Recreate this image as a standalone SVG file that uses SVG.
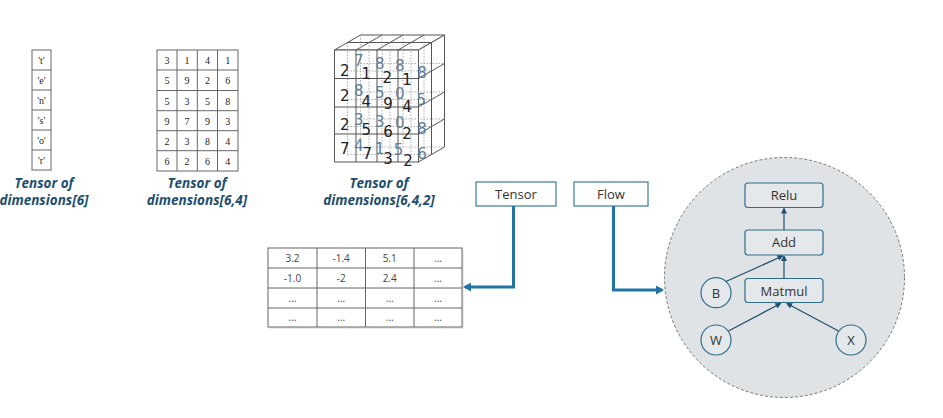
<svg xmlns="http://www.w3.org/2000/svg" width="943" height="418" viewBox="0 0 943 418">
<style>
.lbl{font-family:"Open Sans","Liberation Sans",sans-serif;font-weight:bold;font-style:italic;font-size:13.5px;fill:#1d4e6e;text-anchor:middle}
.ser{font-family:"Liberation Serif",serif;font-size:10px;fill:#222;text-anchor:middle}
.grid{fill:#fff;stroke:#666;stroke-width:1}
.cube{fill:#fff;stroke:#555;stroke-width:1;stroke-linejoin:round}
.dot{fill:none;stroke:#999;stroke-width:0.8;stroke-dasharray:1.5 1.5}
.bk{font-family:"DejaVu Sans","Liberation Sans",sans-serif;font-size:15px;fill:#222;text-anchor:middle}
.bl{font-family:"DejaVu Sans","Liberation Sans",sans-serif;font-size:15px;fill:#5f8099;text-anchor:middle}
.tb{font-family:"Open Sans","Liberation Sans",sans-serif;font-size:10px;fill:#444;text-anchor:middle}
.box{fill:#fff;stroke:#3d7f8f;stroke-width:1.2}
.btxt{font-family:"Open Sans","Liberation Sans",sans-serif;font-size:13px;fill:#333;text-anchor:middle}
.nd{fill:#e4e8eb;stroke:#2e6e8a;stroke-width:1.2}
.ntxt{font-family:"Open Sans","Liberation Sans",sans-serif;font-size:13px;fill:#333;text-anchor:middle}
.big{fill:none;stroke:#2274a5;stroke-width:3}
.sm{fill:none;stroke:#1f4e6e;stroke-width:1.2}
</style>
<defs>
<marker id="ab" markerWidth="9" markerHeight="9" refX="6" refY="4.5" orient="auto" markerUnits="userSpaceOnUse"><path d="M0,0 L8,4.5 L0,9 z" fill="#2274a5"/></marker>
<marker id="as" markerWidth="6" markerHeight="6" refX="5" refY="3" orient="auto" markerUnits="userSpaceOnUse"><path d="M0,0 L6,3 L0,6 z" fill="#1f4e6e"/></marker>
</defs>
<rect width="943" height="418" fill="#fff"/>

<g id="tensor1d">
<rect class="grid" x="32" y="50" width="19" height="120"/>
<path d="M32,70H51M32,90H51M32,110H51M32,130H51M32,150H51" stroke="#666" stroke-width="1"/>
<text class="ser" x="41.5" y="63.5">'t'</text>
<text class="ser" x="41.5" y="83.5">'e'</text>
<text class="ser" x="41.5" y="103.5">'n'</text>
<text class="ser" x="41.5" y="123.5">'s'</text>
<text class="ser" x="41.5" y="143.5">'o'</text>
<text class="ser" x="41.5" y="163.5">'r'</text>
<text class="lbl"><tspan x="44" y="188">Tensor of</tspan><tspan x="44" y="205">dimensions[6]</tspan></text>
</g>

<g id="tensor2d">
<rect class="grid" x="157" y="50" width="81" height="121"/>
<path d="M177,50V171M197.3,50V171M217.5,50V171M157,70H238M157,90.5H238M157,110.7H238M157,130.7H238M157,150.7H238" stroke="#666" stroke-width="1"/>
<g class="ser">
<text x="167" y="64">3</text><text x="187" y="64">1</text><text x="207.4" y="64">4</text><text x="227.7" y="64">1</text>
<text x="167" y="84">5</text><text x="187" y="84">9</text><text x="207.4" y="84">2</text><text x="227.7" y="84">6</text>
<text x="167" y="104.5">5</text><text x="187" y="104.5">3</text><text x="207.4" y="104.5">5</text><text x="227.7" y="104.5">8</text>
<text x="167" y="124.5">9</text><text x="187" y="124.5">7</text><text x="207.4" y="124.5">9</text><text x="227.7" y="124.5">3</text>
<text x="167" y="144.5">2</text><text x="187" y="144.5">3</text><text x="207.4" y="144.5">8</text><text x="227.7" y="144.5">4</text>
<text x="167" y="164.5">6</text><text x="187" y="164.5">2</text><text x="207.4" y="164.5">6</text><text x="227.7" y="164.5">4</text>
</g>
<text class="lbl"><tspan x="197" y="188">Tensor of</tspan><tspan x="197" y="205">dimensions[6,4]</tspan></text>
</g>

<g id="tensor3d">
<polygon class="cube" points="334.5,50 418.5,50 444.5,35 360.5,35"/>
<polygon class="cube" points="418.5,50 444.5,35 444.5,147 418.5,162"/>
<rect class="cube" x="334.5" y="50" width="84" height="112"/>
<path d="M356,50V162M377,50V162M398,50V162M334.5,78.5H418.5M334.5,107H418.5M334.5,134H418.5" stroke="#555" stroke-width="1"/>
<path d="M356,50L382,35M377,50L403,35M398,50L424,35M347.5,42.5H431.5M431.5,42.5V154.5M418.5,78.5L444.5,63.5M418.5,107L444.5,92M418.5,134L444.5,119" stroke="#555" stroke-width="1" fill="none"/>
<path class="dot" d="M347.5,42.5V154.5M369,42.5V154.5M390,42.5V154.5M411,42.5V154.5M360.5,35V147M382,35V147M403,35V147M424,35V147M347.5,71H431.5M347.5,99.5H431.5M347.5,126.5H431.5M347.5,154.5H431.5M360.5,63.5H444.5M360.5,92H444.5M360.5,119H444.5M360.5,147H444.5"/>
<text class="bk" x="344.7" y="75.8">2</text><text class="bl" x="358.7" y="65.8">7</text><text class="bk" x="366.3" y="79.2">1</text><text class="bl" x="379.7" y="69.2">8</text><text class="bk" x="387.3" y="82.5">2</text><text class="bl" x="399.7" y="70.8">8</text><text class="bk" x="407" y="85.2">1</text><text class="bl" x="422" y="78.2">8</text>
<text class="bk" x="344.7" y="100.8">2</text><text class="bl" x="358.7" y="95.8">8</text><text class="bk" x="366.3" y="106.8">4</text><text class="bl" x="379.7" y="97.5">5</text><text class="bk" x="388" y="109.2">9</text><text class="bl" x="399.7" y="99.2">0</text><text class="bk" x="407" y="111.5">4</text><text class="bl" x="421.3" y="104.8">5</text>
<text class="bk" x="344.7" y="130.2">2</text><text class="bl" x="358.7" y="124.8">3</text><text class="bk" x="366.3" y="134.8">5</text><text class="bl" x="379.7" y="126.8">3</text><text class="bk" x="388" y="136.8">6</text><text class="bl" x="399.7" y="127.5">0</text><text class="bk" x="407" y="138.5">2</text><text class="bl" x="422" y="134.2">8</text>
<text class="bk" x="344.7" y="154.2">7</text><text class="bl" x="358.7" y="150.8">4</text><text class="bk" x="367.3" y="159.2">7</text><text class="bl" x="379.7" y="154.2">1</text><text class="bk" x="388" y="163.5">3</text><text class="bl" x="398.5" y="155">5</text><text class="bk" x="408" y="166">2</text><text class="bl" x="422" y="159.2">6</text>
<text class="lbl"><tspan x="379" y="188">Tensor of</tspan><tspan x="379" y="205">dimensions[6,4,2]</tspan></text>
</g>

<g id="table">
<rect x="270" y="250" width="194" height="79" fill="#ddd" opacity="0.6"/>
<rect class="grid" x="268" y="248" width="194" height="79"/>
<path d="M317,248V327M365.5,248V327M414,248V327M268,268H462M268,288H462M268,308H462" stroke="#666" stroke-width="1"/>
<g class="tb">
<text x="292.5" y="261.5">3.2</text><text x="341.2" y="261.5">-1.4</text><text x="389.7" y="261.5">5.1</text><text x="438" y="261.5">...</text>
<text x="292.5" y="281.5">-1.0</text><text x="341.2" y="281.5">-2</text><text x="389.7" y="281.5">2.4</text><text x="438" y="281.5">...</text>
<text x="292.5" y="301.5">...</text><text x="341.2" y="301.5">...</text><text x="389.7" y="301.5">...</text><text x="438" y="301.5">...</text>
<text x="292.5" y="321">...</text><text x="341.2" y="321">...</text><text x="389.7" y="321">...</text><text x="438" y="321">...</text>
</g>
</g>

<g id="tensor-box">
<rect class="box" x="476" y="182" width="80" height="24"/>
<text class="btxt" x="516" y="198.5">Tensor</text>
</g>
<g id="flow-box">
<rect class="box" x="574" y="182" width="74" height="24"/>
<text class="btxt" x="611" y="198.5">Flow</text>
</g>

<g id="graph-circle">
<circle cx="784.5" cy="277.5" r="120" fill="#dfe3e6" stroke="#777" stroke-width="1" stroke-dasharray="3 2"/>
</g>
<g id="relu"><rect class="nd" x="745" y="183" width="78" height="24.5" rx="3"/><text class="ntxt" x="784" y="200">Relu</text></g>
<g id="add"><rect class="nd" x="745" y="230" width="78" height="25" rx="3"/><text class="ntxt" x="784" y="247">Add</text></g>
<g id="matmul"><rect class="nd" x="745" y="278.5" width="78" height="24" rx="3"/><text class="ntxt" x="784" y="295.5">Matmul</text></g>
<g id="b"><circle class="nd" cx="716" cy="292.7" r="15"/><text class="ntxt" x="716" y="297.5">B</text></g>
<g id="w"><circle class="nd" cx="716" cy="340" r="15"/><text class="ntxt" x="716" y="344.8">W</text></g>
<g id="x"><circle class="nd" cx="851" cy="340" r="15"/><text class="ntxt" x="851" y="344.8">X</text></g>

<g id="connectors">
<path class="big" d="M513.5,206V287H465" marker-end="url(#ab)"/>
<path class="big" d="M613.5,206V290H662" marker-end="url(#ab)"/>
<path class="sm" d="M784,230V208.5" marker-end="url(#as)"/>
<path class="sm" d="M784,278.5V256" marker-end="url(#as)"/>
<path class="sm" d="M726,281.5L782.5,256" marker-end="url(#as)"/>
<path class="sm" d="M728.5,331L780.5,303.5" marker-end="url(#as)"/>
<path class="sm" d="M838.5,331L787,303.5" marker-end="url(#as)"/>
</g>
</svg>
